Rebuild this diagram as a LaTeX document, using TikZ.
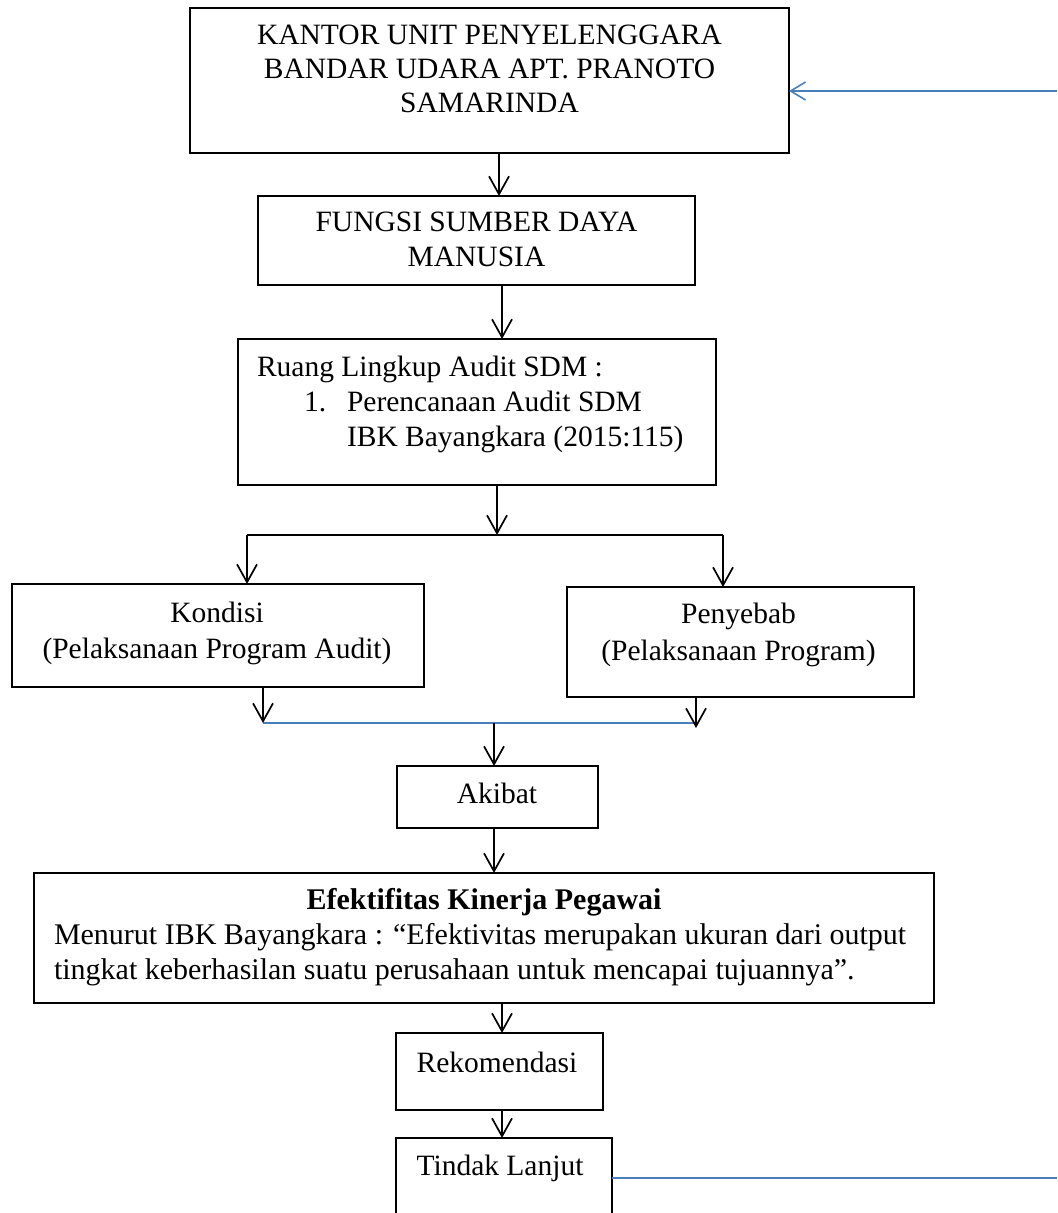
\documentclass[tikz,border=0pt]{standalone}
\usepackage{fontspec}
\setmainfont{Liberation Serif}
\usetikzlibrary{arrows.meta}
\definecolor{connblue}{RGB}{74,126,187}
\tikzset{
  box/.style={draw=black, line width=0.6pt, rectangle, inner sep=0pt, outer sep=0pt},
  txt/.style={inner sep=0pt, outer sep=0pt, font=\fontsize{14.75pt}{17.25pt}\selectfont},
  etxt/.style={inner sep=0pt, outer sep=0pt, font=\fontsize{15pt}{17.5pt}\selectfont},
  arr/.style={draw=black, line width=0.85pt, -{Straight Barb[length=9pt,width=10pt]}},
  splitline/.style={draw=black, line width=1.35pt},
  blueline/.style={draw=connblue, line width=0.8pt},
  bluearr/.style={draw=connblue, line width=0.8pt, -{Straight Barb[length=7.5pt,width=9pt]}}
}
\begin{document}
\begin{tikzpicture}[x=0.5pt,y=-0.5pt]
\useasboundingbox (0,0) rectangle (1057,1213);
\clip (0,0) rectangle (1057,1213);
\fill[white] (0,0) rectangle (1057,1213);

% boxes
\node[box, minimum width=299.5pt, minimum height=72.5pt] (b1) at (489.5,80.5) {};
\node[box, minimum width=218.5pt, minimum height=44.5pt] (b2) at (476.5,240.5) {};
\node[box, minimum width=239pt, minimum height=73pt] (b3) at (477,412) {};
\node[box, minimum width=206pt, minimum height=51.5pt] (kond) at (218,635.5) {};
\node[box, minimum width=173.5pt, minimum height=55pt] (peny) at (740.5,642) {};
\node[box, minimum width=100.5pt, minimum height=31pt] (akib) at (497.5,797) {};
\node[box, minimum width=450pt, minimum height=65pt] (efek) at (484,938) {};
\node[box, minimum width=103.5pt, minimum height=38.5pt] (rekom) at (499.5,1071.5) {};
\node[box, minimum width=108pt, minimum height=51pt] (tind) at (504,1189) {};

% texts
\node[txt, anchor=base] (t1a) at (489.5,45) {KANTOR UNIT PENYELENGGARA};
\node[txt, anchor=base] (t1b) at (489.5,79) {BANDAR UDARA APT. PRANOTO};
\node[txt, anchor=base] (t1c) at (489.5,113) {SAMARINDA};
\node[txt, anchor=base] (t2a) at (476.5,232) {FUNGSI SUMBER DAYA};
\node[txt, anchor=base] (t2b) at (476.5,267) {MANUSIA};
\node[txt, anchor=base west] (t3a) at (257,377) {Ruang Lingkup Audit SDM :};
\node[txt, anchor=base west] (t3n) at (304,411) {1.};
\node[txt, anchor=base west] (t3b) at (347,411) {Perencanaan Audit SDM};
\node[txt, anchor=base west] (t3c) at (347,446) {IBK Bayangkara (2015:115)};
\node[txt, anchor=base] (tka) at (217,622) {Kondisi};
\node[txt, anchor=base] (tkb) at (217,658) {(Pelaksanaan Program Audit)};
\node[txt, anchor=base] (tpa) at (738.5,623) {Penyebab};
\node[txt, anchor=base] (tpb) at (738.5,660) {(Pelaksanaan Program)};
\node[txt, anchor=base] (tak) at (497,803) {Akibat};
\node[etxt, anchor=base, font=\fontsize{15pt}{17.5pt}\selectfont\bfseries] (tea) at (484,909) {Efektifitas Kinerja Pegawai};
\node[etxt, anchor=base west] (teb) at (54,944) {Menurut IBK Bayangkara : “Efektivitas merupakan ukuran dari output};
\node[etxt, anchor=base west] (tec) at (54,979) {tingkat keberhasilan suatu perusahaan untuk mencapai tujuannya”.};
\node[txt, anchor=base] (tre) at (497,1072) {Rekomendasi};
\node[txt, anchor=base] (tti) at (500,1175) {Tindak Lanjut};

% helper coordinates
\coordinate (sp) at (497,535);
\coordinate (spL) at (247,535);
\coordinate (spR) at (723,535);
\coordinate (mL) at (263,723);
\coordinate (mR) at (695,723);
\coordinate (mC) at (494,723);
\coordinate (pTip) at (696,728);
\coordinate (fb) at (1057,91);
\coordinate (te) at (1057,1178);

% connectors
\draw[arr] (b1.south -| 499,0) -- (b2.north -| 499,0);
\draw[arr] (b2.south -| 502,0) -- (b3.north -| 502,0);
\draw[arr] (b3.south -| sp) -- (sp);
\draw[splitline] (spL) -- (spR);
\draw[arr] (spL) -- (kond.north -| spL);
\draw[arr] (spR) -- (peny.north -| spR);
\draw[blueline] (mL) -- (mR);
\draw[arr] (kond.south -| mL) -- (mL);
\draw[arr] (peny.south -| pTip) -- (pTip);
\draw[arr] (mC) -- (akib.north -| mC);
\draw[arr] (akib.south -| mC) -- (efek.north -| mC);
\draw[arr] (efek.south -| 502,0) -- (rekom.north -| 502,0);
\draw[arr] (rekom.south -| 502,0) -- (tind.north -| 502,0);
\draw[bluearr] (fb) -- (b1.east |- fb);
\draw[blueline] (tind.east |- te) -- (te);
\end{tikzpicture}
\end{document}
